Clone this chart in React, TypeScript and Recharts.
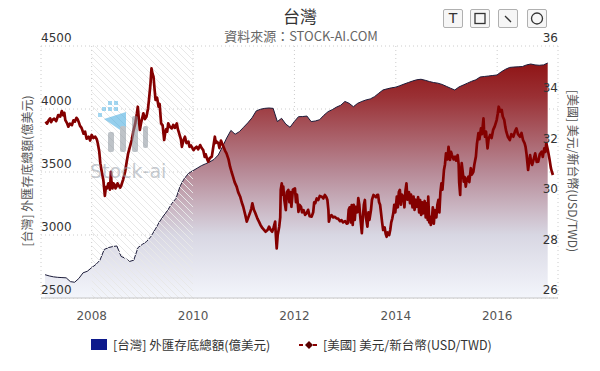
import React from "react";
import {
  ComposedChart,
  Area,
  Line,
  XAxis,
  YAxis,
  CartesianGrid,
  ReferenceArea,
} from "recharts";

// 外匯存底總額 (億美元), monthly from Feb 2007
const reserveStart = 2007.08;
const reserveValues = [
  2685, 2675, 2668, 2664, 2662, 2660, 2630, 2625, 2655, 2700, 2712,
  2740, 2765, 2800, 2885, 2900, 2908, 2913, 2830, 2815, 2790, 2800, 2900,
  2925, 2947, 2985, 3040, 3100, 3150, 3195, 3250, 3290, 3390, 3450, 3490,
  3510, 3530, 3550, 3565, 3580, 3600, 3635, 3700, 3770, 3830, 3800, 3820,
  3855, 3890, 3930, 3985, 3998, 4005, 4008, 4005, 3900, 3926, 3880, 3855,
  3900, 3939, 3940, 3944, 3900, 3905, 3915, 3950, 3979, 3995, 4015, 4030,
  4060, 4045, 4018, 4045, 4060, 4072, 4080, 4098, 4125, 4151, 4160, 4168,
  4173, 4185, 4198, 4210, 4222, 4232, 4236, 4228, 4218, 4210, 4205, 4195,
  4180, 4165, 4151, 4175, 4190, 4205, 4220, 4232, 4254, 4258, 4262, 4266,
  4270, 4295, 4315, 4330, 4333, 4335, 4337, 4350, 4357, 4350, 4347, 4350,
  4365,
];

// 美元/新台幣 readings [year, rate]
const rate2007: [number, number][] = [
  [2007.09, 33.0], [2007.12, 32.92], [2007.15, 33.05], [2007.18, 33.13], [2007.2, 32.98],
  [2007.22, 33.06], [2007.26, 33.12], [2007.3, 33.02], [2007.34, 33.26], [2007.38, 33.2],
  [2007.41, 33.42], [2007.44, 33.25], [2007.46, 33.35], [2007.48, 33.06], [2007.51, 32.95],
  [2007.54, 32.8], [2007.57, 32.92], [2007.61, 32.86], [2007.64, 33.05], [2007.67, 33.0],
  [2007.7, 33.15], [2007.72, 33.1], [2007.75, 32.95], [2007.77, 32.83], [2007.8, 32.75],
  [2007.84, 32.52], [2007.87, 32.6], [2007.9, 32.32], [2007.94, 32.4], [2007.97, 32.25],
];
const rate2008: [number, number][] = [
  [2008.0, 32.47], [2008.03, 32.35], [2008.07, 32.4], [2008.1, 32.3], [2008.12, 32.14],
  [2008.15, 31.8], [2008.17, 31.35], [2008.2, 31.0], [2008.23, 30.68], [2008.26, 30.05],
  [2008.28, 30.4], [2008.3, 30.35], [2008.33, 30.55], [2008.36, 30.3], [2008.38, 31.01],
  [2008.39, 30.6], [2008.41, 30.35], [2008.43, 30.55], [2008.45, 30.5], [2008.47, 30.35],
  [2008.49, 30.42], [2008.51, 30.55], [2008.53, 30.48], [2008.56, 30.38], [2008.58, 30.44],
  [2008.62, 30.7], [2008.66, 31.01], [2008.69, 31.4], [2008.72, 31.74], [2008.76, 32.05],
  [2008.79, 32.27], [2008.82, 32.6], [2008.86, 32.93], [2008.89, 33.3], [2008.91, 33.59],
  [2008.93, 33.1], [2008.95, 32.67], [2008.98, 33.0],
];
const rate2009: [number, number][] = [
  [2009.02, 33.33], [2009.05, 33.1], [2009.08, 33.19], [2009.11, 33.5], [2009.13, 33.86],
  [2009.16, 34.5], [2009.18, 35.11], [2009.2, 34.9], [2009.22, 34.78], [2009.24, 34.3],
  [2009.26, 33.86], [2009.29, 33.95], [2009.32, 33.59], [2009.34, 33.7], [2009.37, 32.93],
  [2009.4, 32.85], [2009.43, 32.27], [2009.45, 32.55], [2009.47, 32.7], [2009.49, 32.6],
  [2009.51, 32.93], [2009.54, 32.8], [2009.58, 32.73], [2009.61, 32.87], [2009.64, 32.75],
  [2009.68, 32.93], [2009.7, 32.7], [2009.73, 32.5], [2009.76, 32.3], [2009.78, 32.0],
  [2009.81, 32.25], [2009.84, 32.4], [2009.87, 32.15], [2009.91, 32.2], [2009.93, 32.0],
  [2009.96, 32.05],
];
const rate2010: [number, number][] = [
  [2010.01, 31.87], [2010.04, 31.95], [2010.07, 32.0], [2010.1, 31.9], [2010.14, 32.07],
  [2010.17, 31.95], [2010.2, 31.87], [2010.23, 31.6], [2010.25, 31.7], [2010.28, 31.5],
  [2010.3, 31.41], [2010.33, 31.55], [2010.37, 31.61], [2010.4, 32.0], [2010.43, 32.4],
  [2010.45, 32.15], [2010.47, 32.2], [2010.5, 32.14], [2010.52, 31.95], [2010.55, 32.25],
  [2010.58, 32.1], [2010.6, 32.0], [2010.63, 31.85], [2010.66, 31.74], [2010.7, 31.5],
  [2010.73, 31.21], [2010.76, 31.0], [2010.79, 30.81], [2010.82, 30.6], [2010.86, 30.42],
  [2010.89, 30.2], [2010.93, 30.02], [2010.96, 29.8], [2010.99, 29.62],
];
const rate2011: [number, number][] = [
  [2011.03, 29.3], [2011.06, 29.03], [2011.09, 29.2], [2011.12, 29.36], [2011.15, 29.55],
  [2011.17, 29.76], [2011.2, 29.5], [2011.23, 29.36], [2011.27, 29.15], [2011.3, 29.03],
  [2011.33, 28.9], [2011.37, 28.77], [2011.4, 28.7], [2011.43, 28.63], [2011.47, 28.7],
  [2011.5, 28.83], [2011.53, 28.7], [2011.56, 28.63], [2011.59, 28.8], [2011.62, 29.03],
  [2011.63, 28.6], [2011.65, 27.97], [2011.67, 28.5], [2011.7, 28.83], [2011.72, 29.2],
  [2011.73, 30.3], [2011.75, 30.55], [2011.77, 30.1], [2011.78, 30.42], [2011.8, 29.9],
  [2011.83, 29.49], [2011.85, 30.2], [2011.88, 30.29], [2011.9, 29.8], [2011.92, 30.2],
  [2011.94, 29.62], [2011.97, 30.3],
];
const rate2012: [number, number][] = [
  [2012.01, 30.35], [2012.03, 29.8], [2012.05, 30.1], [2012.08, 29.42], [2012.1, 29.7],
  [2012.13, 29.62], [2012.15, 29.4], [2012.18, 29.49], [2012.21, 29.3], [2012.24, 29.36],
  [2012.27, 29.5], [2012.3, 29.25], [2012.34, 29.23], [2012.37, 29.4], [2012.39, 29.8],
  [2012.41, 29.76], [2012.44, 29.95], [2012.47, 29.89], [2012.5, 30.05], [2012.54, 30.02],
  [2012.57, 29.95], [2012.6, 30.09], [2012.63, 30.0], [2012.65, 29.89], [2012.67, 29.5],
  [2012.68, 29.03], [2012.7, 29.2], [2012.73, 29.29], [2012.76, 29.2], [2012.8, 29.22],
  [2012.83, 29.16], [2012.86, 29.15], [2012.9, 29.05], [2012.93, 29.09], [2012.96, 29.0],
];
const rate2013: [number, number][] = [
  [2013.0, 29.05], [2013.03, 28.95], [2013.05, 28.96], [2013.07, 29.5], [2013.09, 29.6],
  [2013.11, 29.0], [2013.13, 29.69], [2013.15, 28.9], [2013.17, 29.7], [2013.19, 29.1],
  [2013.21, 29.62], [2013.24, 29.4], [2013.26, 29.96], [2013.28, 29.7], [2013.3, 29.2],
  [2013.33, 28.57], [2013.35, 29.2], [2013.37, 29.7], [2013.39, 29.89], [2013.41, 29.2],
  [2013.44, 28.83], [2013.46, 29.4], [2013.48, 29.1], [2013.51, 29.49], [2013.53, 29.9],
  [2013.56, 30.09], [2013.58, 30.05], [2013.61, 30.0], [2013.63, 30.08], [2013.65, 30.09],
  [2013.67, 29.8], [2013.69, 29.7], [2013.71, 29.36], [2013.73, 29.0], [2013.75, 28.7],
  [2013.78, 28.8], [2013.8, 28.55], [2013.82, 28.43], [2013.84, 28.6], [2013.87, 28.5],
  [2013.89, 28.7], [2013.91, 29.0], [2013.93, 29.15], [2013.95, 29.36], [2013.97, 29.7],
  [2013.99, 29.4],
];
const rate2014: [number, number][] = [
  [2014.02, 30.02], [2014.04, 29.6], [2014.06, 30.2], [2014.08, 30.29], [2014.1, 29.7],
  [2014.12, 30.1], [2014.15, 30.02], [2014.17, 29.6], [2014.19, 30.25], [2014.21, 30.55],
  [2014.23, 29.9], [2014.26, 30.2], [2014.28, 29.76], [2014.3, 30.1], [2014.33, 29.6],
  [2014.35, 30.02], [2014.37, 29.5], [2014.39, 29.9], [2014.41, 29.62], [2014.44, 30.0],
  [2014.46, 29.4], [2014.48, 29.89], [2014.5, 29.3], [2014.52, 29.8], [2014.54, 29.36],
  [2014.57, 29.85], [2014.59, 29.2], [2014.61, 29.76], [2014.63, 29.1], [2014.64, 30.02],
  [2014.66, 29.0], [2014.67, 29.23], [2014.69, 28.9], [2014.71, 29.09], [2014.73, 29.6],
  [2014.75, 28.95], [2014.77, 29.49], [2014.8, 29.2], [2014.82, 29.7], [2014.84, 29.89],
  [2014.86, 29.4], [2014.88, 30.2], [2014.9, 30.55], [2014.92, 30.3], [2014.95, 31.08],
  [2014.97, 31.3], [2014.99, 31.74],
];
const rate2015: [number, number][] = [
  [2015.02, 31.5], [2015.04, 32.0], [2015.06, 31.7], [2015.07, 31.48], [2015.09, 31.8],
  [2015.11, 31.67], [2015.14, 31.5], [2015.17, 31.61], [2015.19, 31.45], [2015.22, 31.67],
  [2015.24, 31.3], [2015.25, 30.6], [2015.27, 30.09], [2015.28, 30.8], [2015.3, 31.35],
  [2015.32, 31.0], [2015.34, 30.62], [2015.36, 30.8], [2015.38, 30.42], [2015.4, 30.7],
  [2015.43, 30.81], [2015.45, 30.6], [2015.48, 31.15], [2015.5, 30.9], [2015.53, 31.01],
  [2015.55, 31.3], [2015.58, 31.61], [2015.6, 32.1], [2015.63, 32.54], [2015.65, 32.3],
  [2015.68, 32.73], [2015.7, 32.5], [2015.73, 33.13], [2015.74, 32.7], [2015.76, 32.4],
  [2015.78, 32.6], [2015.81, 31.94], [2015.83, 32.3], [2015.86, 32.47], [2015.89, 32.35],
  [2015.92, 32.67], [2015.95, 32.8], [2015.99, 33.06],
];
const rate2016: [number, number][] = [
  [2016.01, 33.3], [2016.03, 33.59], [2016.06, 33.4], [2016.09, 33.46], [2016.11, 33.2],
  [2016.14, 33.06], [2016.16, 32.8], [2016.18, 32.6], [2016.21, 32.4], [2016.25, 32.27],
  [2016.28, 32.5], [2016.32, 32.4], [2016.35, 32.6], [2016.38, 32.73], [2016.41, 32.5],
  [2016.45, 32.4], [2016.48, 32.55], [2016.51, 32.27], [2016.54, 32.15], [2016.56, 32.0],
  [2016.58, 31.7], [2016.61, 31.08], [2016.63, 31.4], [2016.65, 31.67], [2016.67, 31.4],
  [2016.69, 31.28], [2016.72, 31.5], [2016.75, 31.74], [2016.78, 31.4], [2016.81, 31.41],
  [2016.84, 31.7], [2016.88, 31.81], [2016.9, 31.6], [2016.93, 31.94], [2016.95, 31.8],
  [2016.97, 32.14],
];
const rate2017: [number, number][] = [
  [2017.0, 31.87], [2017.03, 31.54], [2017.06, 31.15], [2017.08, 31.0], [2017.1, 30.88],
];

const yearTicks = [2008, 2010, 2012, 2014, 2016];
const reserveTicks = [2500, 3000, 3500, 4000, 4500];
const rateTicks = [26, 28, 30, 32, 34, 36];

const reserveData = reserveValues.map((v, i) => ({ t: reserveStart + i / 12, reserve: v }));
const rateData = [
  ...rate2007, ...rate2008, ...rate2009, ...rate2010, ...rate2011,
  ...rate2012, ...rate2013, ...rate2014, ...rate2015, ...rate2016, ...rate2017,
].map(([t, rate]) => ({ t, rate }));

const numFont = "'DejaVu Sans', sans-serif";
const cjkFont = "'Noto Sans CJK TC', 'Noto Sans', sans-serif";

const PLOT_LEFT = 41;
const PLOT_RIGHT = 558;
const PLOT_TOP = 46;
const PLOT_BOTTOM = 298;

function LeftTick(props: any) {
  const { y, payload } = props;
  return (
    <text x={PLOT_LEFT} y={y - 4} fill="#333" fontSize={12} fontFamily={numFont} textAnchor="start">
      {payload.value}
    </text>
  );
}

function RightTick(props: any) {
  const { y, payload } = props;
  return (
    <text x={PLOT_RIGHT} y={y - 4} fill="#333" fontSize={12} fontFamily={numFont} textAnchor="end">
      {payload.value}
    </text>
  );
}

function YearTick(props: any) {
  const { x, payload } = props;
  return (
    <text x={x} y={320} fill="#555" fontSize={12} fontFamily={numFont} textAnchor="middle">
      {payload.value}
    </text>
  );
}

const btn: React.CSSProperties = {
  position: "absolute",
  top: 9,
  width: 20,
  height: 19,
  border: "1px solid #b0b0b0",
  borderRadius: 2,
  background: "#f6f6f6",
  boxSizing: "border-box",
};

export default function App() {
  return (
    <div style={{ position: "absolute", left: 0, top: 0, width: 600, height: 371, background: "#fff", overflow: "hidden" }}>
      <ComposedChart
        width={600}
        height={371}
        margin={{ top: PLOT_TOP, right: 600 - PLOT_RIGHT - 1, bottom: 371 - PLOT_BOTTOM - 25, left: PLOT_LEFT - 1 }}
      >
        <defs>
          <linearGradient id="resFill" gradientUnits="userSpaceOnUse" x1="0" y1={PLOT_TOP} x2="0" y2={PLOT_BOTTOM}>
            <stop offset="0" stopColor="#8a0606" />
            <stop offset="0.2" stopColor="#9a3034" />
            <stop offset="0.5" stopColor="#b78a97" />
            <stop offset="0.75" stopColor="#d8d7e3" />
            <stop offset="1" stopColor="#f3f5fb" />
          </linearGradient>
          <pattern id="hatch" width="7" height="7" patternUnits="userSpaceOnUse">
            <path d="M0,0 L7,7 M-2,5 L2,9 M5,-2 L9,2" stroke="#e8e8e8" strokeWidth="1" />
          </pattern>
        </defs>
        <CartesianGrid yAxisId="left" stroke="#cccccc" strokeDasharray="1 3" />
        <XAxis
          dataKey="t"
          type="number"
          domain={[2007.0, 2017.2]}
          ticks={yearTicks}
          allowDuplicatedCategory={false}
          height={25}
          tickLine={false}
          axisLine={{ stroke: "#c4c4c4" }}
          tick={<YearTick />}
        />
        <YAxis
          yAxisId="left"
          domain={[2500, 4500]}
          ticks={reserveTicks}
          width={1}
          axisLine={false}
          tickLine={false}
          tick={<LeftTick />}
        />
        <YAxis
          yAxisId="right"
          orientation="right"
          domain={[26, 36]}
          ticks={rateTicks}
          width={1}
          axisLine={false}
          tickLine={false}
          tick={<RightTick />}
        />
        <Area
          yAxisId="left"
          data={reserveData}
          dataKey="reserve"
          type="linear"
          stroke="#1c1c3a"
          strokeWidth={1}
          fill="url(#resFill)"
          fillOpacity={1}
          baseValue="dataMin"
          isAnimationActive={false}
        />
        <ReferenceArea yAxisId="left" x1={2008} x2={2010} y1={2500} y2={4500} fill="url(#hatch)" fillOpacity={1} stroke="none" />
        <Line
          yAxisId="right"
          data={rateData}
          dataKey="rate"
          type="linear"
          stroke="#840000"
          strokeWidth={2.7}
          strokeLinejoin="round"
          dot={false}
          isAnimationActive={false}
        />
      </ComposedChart>

      {/* watermark */}
      <svg width={600} height={371} style={{ position: "absolute", left: 0, top: 0, pointerEvents: "none" }}>
        <g opacity={0.55}>
          <rect x={108} y={101} width={4} height={4} fill="#5ab8e6" />
          <rect x={114} y={101} width={4} height={4} fill="#5ab8e6" />
          <rect x={102} y={107} width={4} height={4} fill="#5ab8e6" />
          <rect x={108} y={107} width={4} height={4} fill="#5ab8e6" />
          <rect x={114} y={107} width={4} height={4} fill="#5ab8e6" />
          <rect x={98} y={113} width={4} height={4} fill="#5ab8e6" />
          <path d="M104,119 L126,112 L126,134 Z" fill="#3fa9e0" />
          <rect x={108} y={132} width={6} height={20} rx={2} fill="#8a939c" />
          <rect x={120} y={126} width={6} height={26} rx={2} fill="#8a939c" />
          <rect x={132} y={116} width={6} height={36} rx={2} fill="#8a939c" />
          <rect x={143} y={126} width={5} height={22} rx={2} fill="#8a939c" />
          <text x={90} y={178} fontSize={19} fontFamily={numFont} fill="#9aa2ab">Stock-ai</text>
        </g>
      </svg>

      <div style={{ position: "absolute", left: 0, width: 600, top: 3, textAlign: "center", fontFamily: cjkFont, fontSize: 17, color: "#333" }}>
        台灣
      </div>
      <div style={{ position: "absolute", left: 0, width: 602, top: 26, textAlign: "center", fontFamily: cjkFont, fontSize: 13, color: "#666" }}>
        資料來源：STOCK-AI.COM
      </div>

      <div style={{ ...btn, left: 443 }}>
        <div style={{ textAlign: "center", fontFamily: numFont, fontSize: 14, lineHeight: "17px", color: "#333" }}>T</div>
      </div>
      <div style={{ ...btn, left: 470 }}>
        <svg width={18} height={17}><rect x={4} y={3.5} width={10} height={10} fill="none" stroke="#333" strokeWidth={1.3} /></svg>
      </div>
      <div style={{ ...btn, left: 498 }}>
        <svg width={18} height={17}><line x1={6} y1={6} x2={12} y2={12} stroke="#333" strokeWidth={1.3} /></svg>
      </div>
      <div style={{ ...btn, left: 527 }}>
        <svg width={18} height={17}><circle cx={9} cy={8.5} r={5.5} fill="none" stroke="#333" strokeWidth={1.3} /></svg>
      </div>

      <div
        style={{
          position: "absolute",
          left: 26,
          top: 171,
          transform: "translate(-50%, -50%) rotate(-90deg)",
          whiteSpace: "nowrap",
          fontFamily: cjkFont,
          fontSize: 12,
          color: "#555",
        }}
      >
        [台灣] 外匯存底總額(億美元)
      </div>
      <div
        style={{
          position: "absolute",
          left: 573,
          top: 171,
          transform: "translate(-50%, -50%) rotate(90deg)",
          whiteSpace: "nowrap",
          fontFamily: cjkFont,
          fontSize: 12,
          color: "#555",
        }}
      >
        [美國] 美元/新台幣(USD/TWD)
      </div>

      {/* legend */}
      <div style={{ position: "absolute", left: 91, top: 339, width: 16, height: 11, background: "#0d1a8c" }} />
      <div style={{ position: "absolute", left: 113, top: 335, fontFamily: cjkFont, fontSize: 12.5, color: "#333", whiteSpace: "nowrap" }}>
        [台灣] 外匯存底總額(億美元)
      </div>
      <svg width={22} height={12} style={{ position: "absolute", left: 299, top: 339 }}>
        <line x1={0} y1={6} x2={20} y2={6} stroke="#8b0000" strokeWidth={2} strokeDasharray="4 3" />
        <path d="M10,2 L14,6 L10,10 L6,6 Z" fill="#5a0000" />
      </svg>
      <div style={{ position: "absolute", left: 323, top: 335, fontFamily: cjkFont, fontSize: 12.5, color: "#333", whiteSpace: "nowrap" }}>
        [美國] 美元/新台幣(USD/TWD)
      </div>
    </div>
  );
}
